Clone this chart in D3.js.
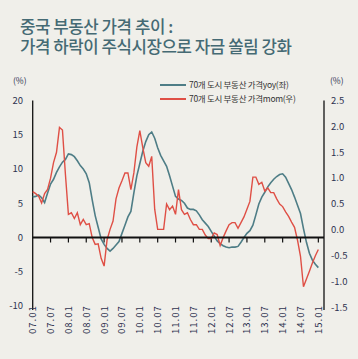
<!DOCTYPE html>
<html><head><meta charset="utf-8">
<script src="https://cdn.jsdelivr.net/npm/d3@7"></script>
<style>
html,body{margin:0;padding:0;background:#f0efea;}
svg{display:block;}
text{font-family:"Noto Sans CJK KR","Noto Sans",sans-serif;}
</style></head>
<body>
<script>
const titleLines = ["중국 부동산 가격 추이 :", "가격 하락이 주식시장으로 자금 쏠림 강화"];
const legendLabels = ["70개 도시 부동산 가격yoy(좌)", "70개 도시 부동산 가격mom(우)"];
const xTickLabels = ["07.01","07.07","08.01","08.07","09.01","09.07","10.01","10.07","11.01","11.07","12.01","12.07","13.01","13.07","14.01","14.07","15.01"];
const leftTicks = [20,15,10,5,0,-5,-10];
const rightTicks = [2.5,2.0,1.5,1.0,0.5,0.0,-0.5,-1.0,-1.5];
// monthly, Jan 2007 .. Jan 2015
const yoy = [5.9,6.0,6.2,5.8,5.1,6.5,7.8,8.5,9.5,10.3,11.0,11.4,12.2,12.1,11.8,11.2,10.5,10.0,9.3,8.0,5.5,3.2,1.5,-0.2,-1.0,-1.6,-2.0,-1.6,-1.1,-0.6,0.6,1.8,3.0,3.8,6.5,9.0,10.8,12.6,14.0,15.0,15.4,14.5,13.1,12.0,11.2,10.4,9.0,7.5,6.0,5.6,5.4,5.0,4.3,4.1,4.1,3.9,3.3,2.6,2.1,1.6,0.9,0.2,-0.5,-0.9,-1.2,-1.4,-1.5,-1.4,-1.4,-1.3,-0.7,0.0,0.6,1.0,1.8,3.3,4.9,5.9,6.6,7.4,8.0,8.5,8.9,9.2,9.3,8.8,7.9,7.0,5.9,4.7,3.5,1.3,-0.7,-2.3,-3.3,-3.9,-4.4];
const mom = [0.74,0.70,0.65,0.52,0.70,0.78,1.00,1.30,1.50,1.98,1.93,1.07,0.30,0.33,0.22,0.33,0.10,0.20,0.10,0.12,-0.15,-0.28,-0.27,-0.55,-0.70,-0.19,0.01,0.17,0.60,0.81,0.95,1.10,1.10,0.78,1.10,1.60,1.92,1.59,1.30,1.23,1.42,0.40,0.01,0.01,0.01,0.50,0.39,0.46,0.30,0.78,0.39,0.30,0.33,0.20,0.10,0.10,0.01,0.01,-0.10,-0.17,-0.17,-0.06,-0.09,-0.30,-0.15,-0.02,0.10,0.14,0.14,0.03,0.14,0.25,0.40,0.55,1.02,1.02,0.88,0.92,0.75,0.81,0.72,0.72,0.60,0.50,0.45,0.35,0.26,0.15,0.05,-0.20,-0.51,-1.10,-0.95,-0.80,-0.64,-0.50,-0.38];

const W = 358, H = 359;
const svg = d3.select("body").append("svg").attr("width", W).attr("height", H);
svg.append("rect").attr("width", W).attr("height", H).attr("fill", "#f0efea");

const teal = "#4e7d86", red = "#df4f45", ink = "#2e3350";

const title = svg.append("text").attr("font-size", 16.8).attr("font-weight", 500)
  .attr("fill", "#456a74").attr("letter-spacing", -0.45);
title.selectAll("tspan").data(titleLines).join("tspan")
  .attr("x", 20).attr("y", (d,i) => 33 + i*20).text(d => d);

const x = d3.scaleLinear().domain([0, 97.9]).range([32.7, 324]);
const yL = d3.scaleLinear().domain([-10, 20]).range([306, 100.5]);
const yR = d3.scaleLinear().domain([-1.5, 2.5]).range([307.5, 100.5]);

// axes
svg.append("line").attr("x1", 32.7).attr("x2", 32.7).attr("y1", 100.5).attr("y2", 310).attr("stroke", "#111").attr("stroke-width", 1.3);
svg.append("line").attr("x1", 324).attr("x2", 324).attr("y1", 100.5).attr("y2", 310).attr("stroke", "#111").attr("stroke-width", 1.3);

svg.selectAll("text.lt").data(leftTicks).join("text").attr("class","lt")
  .attr("x", 23).attr("y", d => yL(d)).attr("dy", "0.35em").attr("text-anchor","end")
  .attr("font-size", 9.5).attr("fill", ink).text(d => d);
svg.selectAll("text.rt").data(rightTicks).join("text").attr("class","rt")
  .attr("x", 331).attr("y", d => yR(d)).attr("dy", "0.35em").attr("text-anchor","start")
  .attr("font-size", 9.5).attr("fill", ink).text(d => d.toFixed(1));
svg.append("text").attr("x", 13).attr("y", 84).attr("font-size", 8.5).attr("fill", ink).text("(%)");
svg.append("text").attr("x", 330).attr("y", 84).attr("font-size", 8.5).attr("fill", ink).text("(%)");

// x ticks
const tickIdx = xTickLabels.map((d,i) => i*6);
svg.selectAll("line.xt").data(tickIdx.slice(1)).join("line").attr("class","xt")
  .attr("x1", d => x(d)).attr("x2", d => x(d)).attr("y1", yL(0)).attr("y2", yL(0)+5)
  .attr("stroke", "#111").attr("stroke-width", 1.2);
svg.selectAll("text.xl").data(xTickLabels).join("text").attr("class","xl")
  .attr("transform", (d,i) => `translate(${x(i*6)+3.5},334) rotate(-90)`)
  .attr("font-size", 9.5).attr("letter-spacing", 1).attr("fill", ink).text(d => d);

// lines
const lineL = d3.line().x((d,i) => x(i)).y(d => yL(d));
const lineR = d3.line().x((d,i) => x(i)).y(d => yR(d));
svg.append("path").attr("d", lineL(yoy)).attr("fill","none").attr("stroke", teal).attr("stroke-width", 1.6);
svg.append("path").attr("d", lineR(mom)).attr("fill","none").attr("stroke", red).attr("stroke-width", 1.4);

// zero baseline
svg.append("line").attr("x1", 32.7).attr("x2", 324).attr("y1", yL(0)).attr("y2", yL(0)).attr("stroke", "#111").attr("stroke-width", 2.2);

// legend
const lg = svg.append("g");
[teal, red].forEach((c, i) => {
  lg.append("line").attr("x1", 160).attr("x2", 186).attr("y1", 85 + i*14).attr("y2", 85 + i*14)
    .attr("stroke", c).attr("stroke-width", 2);
  lg.append("text").attr("x", 189).attr("y", 85 + i*14).attr("dy", "0.35em")
    .attr("font-size", 8.5).attr("letter-spacing", -0.3).attr("fill", "#333").text(legendLabels[i]);
});
</script>
</body></html>
